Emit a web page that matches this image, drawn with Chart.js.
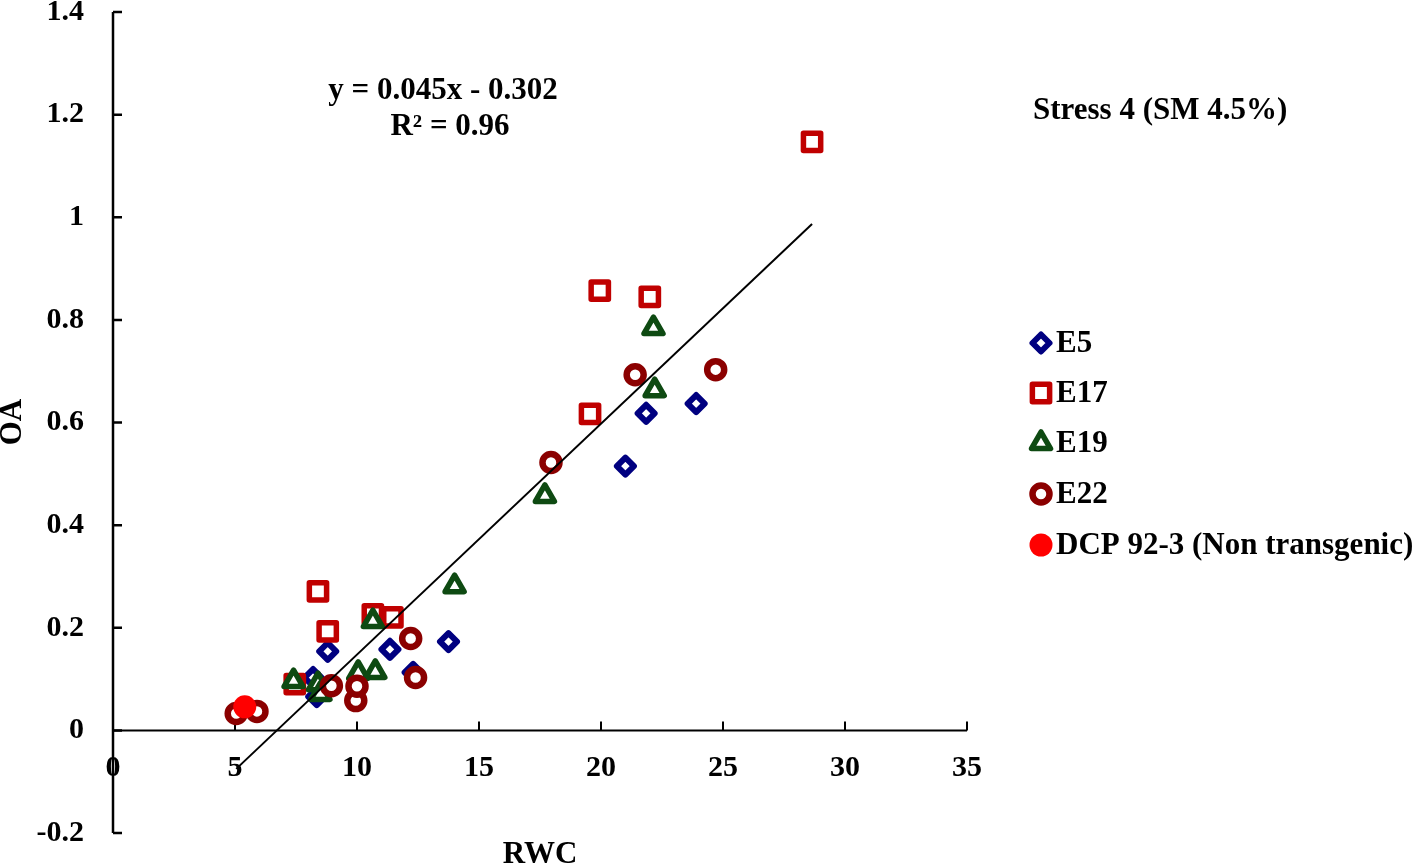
<!DOCTYPE html>
<html>
<head>
<meta charset="utf-8">
<script src="https://cdn.jsdelivr.net/npm/chart.js@4.4.1/dist/chart.umd.min.js"></script>
<style>
  html, body { margin: 0; padding: 0; background: #fff; }
  #wrap { position: relative; width: 1418px; height: 868px; }
</style>
</head>
<body>
<div id="wrap"><canvas id="oaChart"></canvas></div>
<script>
// values (RWC on x, OA on y)
const e5X = [8.2, 8.35, 8.8, 11.35, 12.3, 13.75, 21.0, 21.85, 23.9];
const e5Y = [0.103, 0.066, 0.154, 0.158, 0.113, 0.173, 0.515, 0.618, 0.637];

const e17X = [7.45, 8.4, 8.8, 10.65, 11.45, 19.55, 19.95, 22.0, 28.65];
const e17Y = [0.090, 0.271, 0.193, 0.226, 0.220, 0.617, 0.857, 0.845, 1.147];

const e19X = [7.4, 8.4, 8.5, 10.05, 10.75, 10.65, 14.0, 17.7, 22.2, 22.15];
const e19Y = [0.096, 0.090, 0.071, 0.112, 0.114, 0.213, 0.281, 0.457, 0.663, 0.784];

const e22X = [5.05, 5.9, 8.95, 9.95, 10.0, 12.2, 12.4, 17.95, 21.4, 24.7];
const e22Y = [0.033, 0.037, 0.087, 0.058, 0.086, 0.179, 0.103, 0.522, 0.693, 0.703];

const dcpX = [5.4];
const dcpY = [0.046];

// linear trend line endpoints (y = 0.045x - 0.302)
const trendX = [5.05, 28.65];
const trendY = [-0.075, 0.987];

const xTicks = [0, 5, 10, 15, 20, 25, 30, 35];
const yTicks = [-0.2, 0, 0.2, 0.4, 0.6, 0.8, 1, 1.2, 1.4];

const seriesNames = ['E5', 'E17', 'E19', 'E22', 'DCP 92-3 (Non transgenic)'];
const eqText = 'y = 0.045x - 0.302';
const r2Text = 'R\u00B2 = 0.96';
const titleText = 'Stress 4 (SM 4.5%)';

const FONT = '"Liberation Serif", "Times New Roman", serif';

const pts = (xs, ys) => xs.map((x, i) => ({ x: x, y: ys[i] }));

const styles = [
  { color: '#000080', shape: 'rectRot', r: 8.5, bw: 6, fill: '#ffffff' },
  { color: '#C00000', shape: 'rect', r: 12.2, bw: 5.5, fill: '#ffffff' },
  { color: '#0E4A12', shape: 'triangle', r: 11, bw: 5.5, fill: '#ffffff' },
  { color: '#8B0000', shape: 'circle', r: 8.5, bw: 6.5, fill: '#ffffff' },
  { color: '#FF0000', shape: 'circle', r: 11.5, bw: 0, fill: '#FF0000' }
];
const seriesData = [pts(e5X, e5Y), pts(e17X, e17Y), pts(e19X, e19Y), pts(e22X, e22Y), pts(dcpX, dcpY)];

const datasets = seriesData.map((d, i) => ({
  label: seriesNames[i],
  data: d,
  pointStyle: styles[i].shape,
  pointRadius: styles[i].r,
  pointHoverRadius: styles[i].r,
  borderColor: styles[i].color,
  backgroundColor: styles[i].fill,
  pointBorderWidth: styles[i].bw,
  order: 5 - i
}));

datasets.push({
  label: 'trend',
  data: pts(trendX, trendY),
  showLine: true,
  pointRadius: 0,
  borderColor: '#000000',
  borderWidth: 2,
  order: 0
});

// axes drawn Excel style: y axis at x=0, x axis crossing at y=0, ticks pointing inward
const axisLines = {
  id: 'axisLines',
  beforeDatasetsDraw(chart) {
    const { ctx, chartArea, scales: { x, y } } = chart;
    const x0 = x.getPixelForValue(0);
    const y0 = y.getPixelForValue(0);
    ctx.save();
    ctx.strokeStyle = '#000';
    ctx.lineWidth = 2.5;
    ctx.beginPath();
    ctx.moveTo(x0, chartArea.top);
    ctx.lineTo(x0, chartArea.bottom);
    yTicks.forEach(v => {
      const py = y.getPixelForValue(v);
      ctx.moveTo(x0, py);
      ctx.lineTo(x0 + 9, py);
    });
    ctx.stroke();
    ctx.lineWidth = 2;
    ctx.beginPath();
    ctx.moveTo(x.left, y0);
    ctx.lineTo(x.right, y0);
    xTicks.forEach(v => {
      if (v === 0) return;
      const px = x.getPixelForValue(v);
      ctx.moveTo(px, y0);
      ctx.lineTo(px, y0 - 9);
    });
    ctx.stroke();

    // x tick labels sit just under the y=0 line
    ctx.fillStyle = '#000';
    ctx.font = 'bold 30px ' + FONT;
    ctx.textAlign = 'center';
    ctx.textBaseline = 'middle';
    xTicks.forEach(v => ctx.fillText(String(v), x.getPixelForValue(v), y0 + 38));
    ctx.restore();

    // rounded marker corners, like the original
    ctx.save();
    ctx.lineJoin = 'round';
  },
  afterDatasetsDraw(chart) {
    chart.ctx.restore();
  }
};

function drawMarker(ctx, st, cx, cy) {
  ctx.save();
  ctx.lineJoin = 'round';
  ctx.lineWidth = st.bw;
  ctx.strokeStyle = st.color;
  ctx.fillStyle = st.fill;
  Chart.helpers.drawPoint(ctx, { pointStyle: st.shape, radius: st.r, rotation: 0, borderWidth: st.bw }, cx, cy);
  ctx.restore();
}

const annotations = {
  id: 'annotations',
  afterDraw(chart) {
    const { ctx } = chart;
    ctx.save();
    ctx.fillStyle = '#000';
    ctx.font = 'bold 31px ' + FONT;
    ctx.textBaseline = 'middle';

    ctx.textAlign = 'center';
    ctx.fillText(eqText, 443, 91);
    ctx.fillText(r2Text, 450, 127);
    ctx.fillText('RWC', 540, 855);

    ctx.textAlign = 'left';
    ctx.fillText(titleText, 1033, 111);

    // legend
    const rows = [343, 393, 443, 494, 545];
    seriesNames.forEach((name, i) => {
      drawMarker(ctx, styles[i], 1041, rows[i]);
      ctx.fillStyle = '#000';
      ctx.textAlign = 'left';
      ctx.fillText(name, 1056, rows[i] + 1);
    });

    ctx.translate(13, 422);
    ctx.rotate(-Math.PI / 2);
    ctx.textAlign = 'center';
    ctx.fillText('OA', 0, 0);
    ctx.restore();
  }
};

new Chart(document.getElementById('oaChart'), {
  type: 'scatter',
  data: { datasets: datasets },
  options: {
    responsive: true,
    maintainAspectRatio: false,
    animation: false,
    layout: { autoPadding: false, padding: { left: 0, right: 451, top: 0, bottom: 0 } },
    plugins: {
      legend: { display: false },
      tooltip: { enabled: false }
    },
    scales: {
      x: {
        type: 'linear',
        min: 0,
        max: 35,
        display: false
      },
      y: {
        type: 'linear',
        min: -0.2,
        max: 1.4,
        afterBuildTicks: s => { s.ticks = yTicks.map(v => ({ value: v })); },
        afterFit: s => { s.width = 113; s.paddingTop = 12; s.paddingBottom = 35; },
        grid: { display: false, drawTicks: false },
        border: { display: false },
        ticks: {
          color: '#000',
          padding: 29,
          font: { family: FONT, size: 30, weight: 'bold' },
          callback: v => String(v)
        }
      }
    }
  },
  plugins: [axisLines, annotations]
});
</script>
</body>
</html>
